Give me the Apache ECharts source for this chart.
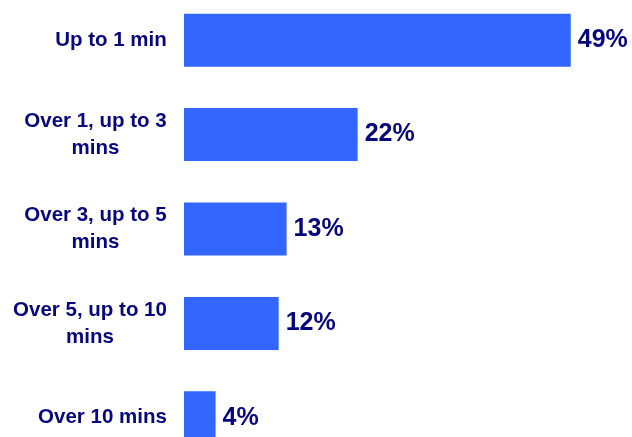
<!DOCTYPE html>
<html lang="en">
<head>
    <meta charset="UTF-8">
    <title>Time spent</title>
    <style>
        html, body { margin: 0; padding: 0; background: #fff; overflow: hidden; width: 632px; height: 437px; }
        #chart { width: 632px; height: 480px; margin-top: -7px; }
    </style>
</head>
<body>
    <div id="chart"></div>
    <script src="https://cdn.jsdelivr.net/npm/echarts@6/dist/echarts.min.js"></script>
    <script>
        let categories = ['Up to 1 min', 'Over 1, up to 3\nmins', 'Over 3, up to 5\nmins', 'Over 5, up to 10\nmins', 'Over 10 mins']
        let values = [49, 22, 13, 12, 4]

        let font = 'Arial'
        let catSize = 20.5
        let navy = '#06067e'

        // multi-line labels: block right-aligned, lines centred under the first one
        let ctx = document.createElement('canvas').getContext('2d')
        ctx.font = 'bold ' + catSize + 'px ' + font
        let rich = {}
        categories.forEach((c, i) => {
            let w = Math.max(...c.split('\n').map(l => ctx.measureText(l).width))
            rich['c' + i] = {
                width: Math.ceil(w), align: 'center',
                fontFamily: font, fontWeight: 'bold', fontSize: catSize,
                lineHeight: 27, color: navy
            }
        })

        let chart = echarts.init(document.getElementById('chart'))
        let option = {
            animation: false,
            grid: { left: 184, top: 0, width: 442, height: 472, containLabel: false },
            xAxis: {
                type: 'value', min: 0, max: 56, show: false
            },
            yAxis: {
                type: 'category',
                inverse: true,
                data: categories,
                axisLine: { show: false },
                axisTick: { show: false },
                axisLabel: {
                    margin: 17,
                    align: 'right',
                    formatter: function (v, i) {
                        return v.split('\n').map(l => '{c' + i + '|' + l + '}').join('\n')
                    },
                    rich: rich
                }
            },
            series: [{
                type: 'bar',
                data: values,
                barWidth: 53,
                itemStyle: { color: '#3366ff' },
                label: {
                    show: true,
                    position: 'right',
                    distance: 7,
                    formatter: '{c}%',
                    fontFamily: font,
                    fontWeight: 'bold',
                    fontSize: 25,
                    color: navy
                }
            }]
        }
        chart.setOption(option)
    </script>
</body>
</html>
